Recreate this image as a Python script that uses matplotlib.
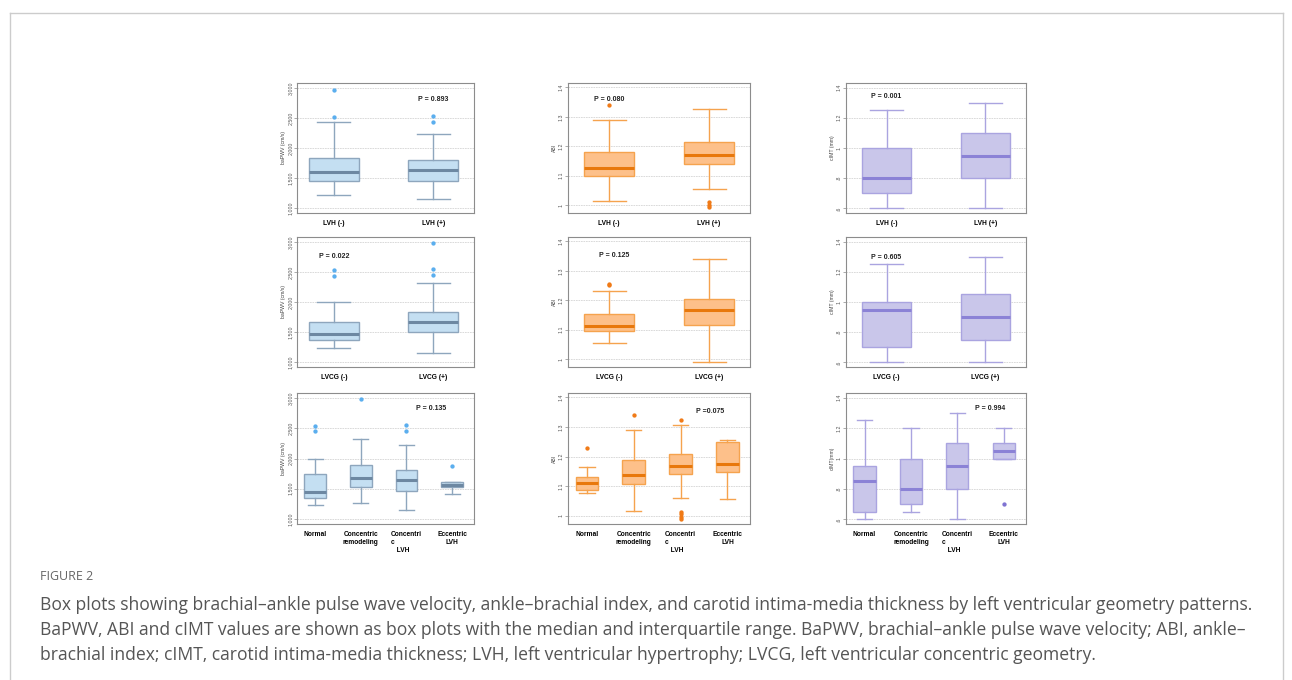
import matplotlib
matplotlib.use("Agg")
import matplotlib.pyplot as plt
from matplotlib.lines import Line2D
from matplotlib.ticker import FixedLocator, FixedFormatter

W, H = 1292, 680
fig = plt.figure(figsize=(W / 100, H / 100), dpi=100)

# ---------------- data ----------------
lvh_groups = ["LVH (-)", "LVH (+)"]
lvcg_groups = ["LVCG (-)", "LVCG (+)"]
geom_groups = ["Normal", "Concentric\nremodeling", "Concentri\nc\n   LVH", "Eccentric\nLVH"]

# each box: [lower whisker, Q1, median, Q3, upper whisker]
bapwv_lvh = [[1222, 1444, 1600, 1833, 2433], [1156, 1456, 1628, 1806, 2233]]
bapwv_lvh_out = [[2528, 2972], [2444, 2539]]
abi_lvh = [[1.015, 1.100, 1.125, 1.179, 1.289], [1.056, 1.141, 1.170, 1.214, 1.325]]
abi_lvh_out = [[1.341], [0.993, 1.001, 1.009]]
cimt_lvh = [[0.60, 0.70, 0.80, 1.00, 1.25], [0.60, 0.80, 0.95, 1.10, 1.30]]
cimt_lvh_out = [[], []]

bapwv_lvcg = [[1229, 1363, 1469, 1670, 1994], [1151, 1497, 1659, 1827, 2313]]
bapwv_lvcg_out = [[2441, 2536], [2453, 2547, 2983]]
abi_lvcg = [[1.055, 1.094, 1.112, 1.154, 1.231], [0.990, 1.117, 1.166, 1.205, 1.341]]
abi_lvcg_out = [[1.251, 1.256], []]
cimt_lvcg = [[0.60, 0.70, 0.95, 1.00, 1.25], [0.60, 0.75, 0.90, 1.05, 1.30]]
cimt_lvcg_out = [[], []]

bapwv_geom = [[1230, 1342, 1448, 1739, 1997], [1258, 1532, 1672, 1896, 2317],
              [1151, 1459, 1644, 1818, 2232], [1420, 1532, 1566, 1605, 1610]]
bapwv_geom_out = [[2451, 2541], [2983], [2462, 2552], [1880]]
abi_geom = [[1.076, 1.088, 1.111, 1.131, 1.166], [1.017, 1.107, 1.140, 1.190, 1.290],
            [1.061, 1.141, 1.169, 1.208, 1.306], [1.056, 1.147, 1.175, 1.249, 1.257]]
abi_geom_out = [[1.231], [1.340], [0.991, 0.998, 1.006, 1.014, 1.325], []]
cimt_geom = [[0.60, 0.65, 0.85, 0.95, 1.25], [0.65, 0.70, 0.80, 1.00, 1.20],
             [0.60, 0.80, 0.95, 1.10, 1.30], [1.00, 1.00, 1.05, 1.10, 1.20]]
cimt_geom_out = [[], [], [], [0.70]]

p_texts = [["P = 0.893", "P = 0.080", "P = 0.001"],
           ["P = 0.022", "P = 0.125", "P = 0.605"],
           ["P = 0.135", "P =0.075", "P = 0.994"]]

bapwv_ticks = [1000, 1500, 2000, 2500, 3000]
bapwv_ticklabels = ["1,000", "1,500", "2,000", "2,500", "3,000"]
abi_ticks = [1.0, 1.1, 1.2, 1.3, 1.4]
abi_ticklabels = ["1", "1.1", "1.2", "1.3", "1.4"]
cimt_ticks = [0.6, 0.8, 1.0, 1.2, 1.4]
cimt_ticklabels = [".6", ".8", "1", "1.2", "1.4"]

# ---------------- styling ----------------
styles = {
    "bapwv": dict(fill="#c4dff2", edge="#8ea6bd", med="#6d88a2", flier="#5aaeee",
                  ylim=(915, 3088), ticks=bapwv_ticks, labels=bapwv_ticklabels),
    "abi": dict(fill="#fdc08a", edge="#f5a34e", med="#e8780c", flier="#f07a16",
                ylim=(0.973, 1.415), ticks=abi_ticks, labels=abi_ticklabels),
    "cimt": dict(fill="#c9c6ea", edge="#aaa4e0", med="#8b82d6", flier="#7f73d2",
                 ylim=(0.57, 1.43), ticks=cimt_ticks, labels=cimt_ticklabels),
}

col_x = [(297, 474), (568, 750), (846, 1026)]
row_y = [(83, 213), (237, 367), (393, 524)]

panels = [
    [("bapwv", bapwv_lvh, bapwv_lvh_out, lvh_groups, "baPWV (cm/s)"),
     ("abi", abi_lvh, abi_lvh_out, lvh_groups, "ABI"),
     ("cimt", cimt_lvh, cimt_lvh_out, lvh_groups, "cIMT (mm)")],
    [("bapwv", bapwv_lvcg, bapwv_lvcg_out, lvcg_groups, "baPWV (cm/s)"),
     ("abi", abi_lvcg, abi_lvcg_out, lvcg_groups, "ABI"),
     ("cimt", cimt_lvcg, cimt_lvcg_out, lvcg_groups, "cIMT (mm)")],
    [("bapwv", bapwv_geom, bapwv_geom_out, geom_groups, "baPWV (cm/s)"),
     ("abi", abi_geom, abi_geom_out, geom_groups, "ABI"),
     ("cimt", cimt_geom, cimt_geom_out, geom_groups, "cIMT(mm)")],
]

# p-text anchor (x position in category units, y as fraction of axis height)
p_pos = [[(2.0, 0.87), (1.0, 0.87), (1.0, 0.90)],
         [(1.0, 0.85), (1.05, 0.86), (1.0, 0.84)],
         [(3.55, 0.88), (3.63, 0.86), (3.7, 0.88)]]

for r in range(3):
    for c in range(3):
        key, stats, outs, groups, ylab = panels[r][c]
        st = styles[key]
        x0, x1 = col_x[c]
        y0, y1 = row_y[r]
        ax = fig.add_axes([x0 / W, 1 - y1 / H, (x1 - x0) / W, (y1 - y0) / H])
        n = len(stats)
        bxstats = []
        for s, o in zip(stats, outs):
            bxstats.append(dict(whislo=s[0], q1=s[1], med=s[2], q3=s[3], whishi=s[4], fliers=o))
        pos = list(range(1, n + 1))
        width = 0.5 if n == 2 else 0.48
        ax.bxp(bxstats, positions=pos, widths=width, patch_artist=True, showfliers=True,
               capwidths=0.33,
               boxprops=dict(facecolor=st["fill"], edgecolor=st["edge"], linewidth=1.0),
               medianprops=dict(color=st["med"], linewidth=2.2),
               whiskerprops=dict(color=st["edge"], linewidth=1.0),
               capprops=dict(color=st["edge"], linewidth=1.0),
               flierprops=dict(marker="o", markersize=2.1, markerfacecolor=st["flier"],
                               markeredgecolor=st["flier"], linestyle="none"))
        if n == 2:
            ax.set_xlim(0.63 if c == 0 else 0.59, 2.41)
        else:
            ax.set_xlim(0.6, 4.48)
        ax.set_ylim(*st["ylim"])
        ax.yaxis.set_major_locator(FixedLocator(st["ticks"]))
        ax.yaxis.set_major_formatter(FixedFormatter(st["labels"]))
        ax.set_xticks(pos)
        ax.set_xticklabels(groups, fontsize=4.8, fontweight="bold", family="Liberation Sans")
        for lab in ax.get_xticklabels():
            lab.set_multialignment("left" if "Concentri\nc" in lab.get_text() else "center")
        ax.tick_params(axis="x", length=0, pad=5)
        ax.tick_params(axis="y", length=2, width=0.5, color="#888888", labelsize=3.8,
                       labelcolor="#555555", pad=1, labelrotation=90)
        for lab in ax.get_yticklabels():
            lab.set_family("Liberation Sans")
            lab.set_va("center")
        ax.set_ylabel(ylab, fontsize=3.7, color="#444444", family="Liberation Sans", labelpad=1.5)
        ax.grid(axis="y", color="#d4d4d4", linewidth=0.6, linestyle=(0, (2, 1)))
        ax.set_axisbelow(True)
        for sp in ax.spines.values():
            sp.set_color("#8c8c8c")
            sp.set_linewidth(0.8)
        px, py = p_pos[r][c]
        ax.text(px, py, p_texts[r][c], transform=ax.get_xaxis_transform(), ha="center",
                va="center", fontsize=5.0, fontweight="bold", family="Liberation Sans",
                color="#222222")

# ---------------- page frame ----------------
fx = lambda v: v / W
fy = lambda v: 1 - v / H
frame_col = "#cccccc"
fig.add_artist(Line2D([fx(9.5), fx(1282.5)], [fy(12.5), fy(12.5)], color=frame_col, lw=1.0))
fig.add_artist(Line2D([fx(9.5), fx(9.5)], [fy(12.5), 0], color=frame_col, lw=1.0))
fig.add_artist(Line2D([fx(1282.5), fx(1282.5)], [fy(12.5), 0], color=frame_col, lw=1.0))

# ---------------- caption ----------------
fig_label = "FIGURE 2"
caption_lines = [
    "Box plots showing brachial\u2013ankle pulse wave velocity, ankle\u2013brachial index, and carotid intima-media thickness by left ventricular geometry patterns.",
    "BaPWV, ABI and cIMT values are shown as box plots with the median and interquartile range. BaPWV, brachial\u2013ankle pulse wave velocity; ABI, ankle\u2013",
    "brachial index; cIMT, carotid intima-media thickness; LVH, left ventricular hypertrophy; LVCG, left ventricular concentric geometry.",
]
fig.text(fx(40), fy(577), fig_label, fontsize=9.0, color="#666666", family="Open Sans",
         ha="left", va="center")
renderer = fig.canvas.get_renderer()
fs = 11.5
t0 = fig.text(fx(40), fy(605), caption_lines[0], fontsize=fs, color="#555555",
              family="Open Sans", ha="left", va="center")
wpx = t0.get_window_extent(renderer).width
fs = fs * 1215.0 / wpx
t0.set_fontsize(fs)
for i, line in enumerate(caption_lines[1:], start=1):
    fig.text(fx(40), fy(605 + 25 * i), line, fontsize=fs, color="#555555",
             family="Open Sans", ha="left", va="center")

fig.savefig("out.png", dpi=100, facecolor="white")
